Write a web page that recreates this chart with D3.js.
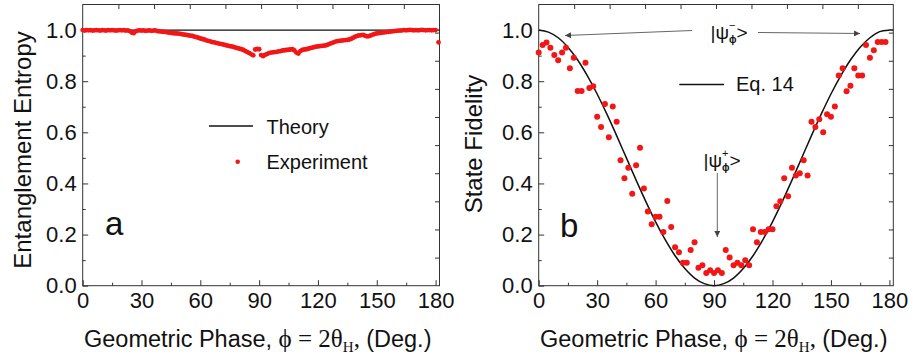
<!DOCTYPE html>
<html>
<head>
<meta charset="utf-8">
<script src="https://cdn.jsdelivr.net/npm/d3@7"></script>
<style>
  body { margin: 0; background: #fff; }
  svg { display: block; }
  text { font-family: Arial, 'Liberation Sans', sans-serif; fill: #111; }
  .tick line { stroke: #333; }
</style>
</head>
<body>
<div id="chart"></div>
<script>
// panel a: entanglement entropy, one point per degree (last point sits just past 180)
const entropyPhi = d3.range(0, 181).concat([181.5]);
const entropy = [
  1.000, 0.998, 1.000, 0.999, 1.000, 0.998, 0.999, 1.000, 0.999, 0.998,
  1.000, 0.999, 0.998, 1.000, 0.999, 1.000, 0.999, 0.998, 0.999, 1.000,
  0.999, 1.000, 0.998, 0.999, 0.996, 0.990, 0.988, 0.995, 0.998, 0.999,
  0.998, 0.999, 0.997, 0.998, 0.999, 0.997, 0.998, 0.999, 0.996, 0.995,
  0.994, 0.993, 0.993, 0.991, 0.990, 0.989, 0.988, 0.987, 0.987, 0.986,
  0.985, 0.983, 0.982, 0.981, 0.979, 0.978, 0.977, 0.974, 0.972, 0.970,
  0.967, 0.965, 0.963, 0.960, 0.958, 0.956, 0.953, 0.952, 0.950, 0.948,
  0.946, 0.945, 0.943, 0.941, 0.939, 0.937, 0.936, 0.934, 0.931, 0.929,
  0.927, 0.925, 0.922, 0.918, 0.914, 0.910, 0.905, 0.901, 0.924, 0.926,
  0.925, 0.902, 0.898, 0.903, 0.906, 0.910, 0.912, 0.913, 0.914, 0.915,
  0.917, 0.918, 0.920, 0.921, 0.922, 0.923, 0.924, 0.925, 0.920, 0.912,
  0.908, 0.918, 0.922, 0.924, 0.925, 0.927, 0.929, 0.931, 0.933, 0.935,
  0.936, 0.937, 0.938, 0.939, 0.940, 0.943, 0.946, 0.949, 0.952, 0.955,
  0.957, 0.958, 0.959, 0.960, 0.961, 0.962, 0.963, 0.966, 0.970, 0.974,
  0.977, 0.979, 0.980, 0.981, 0.978, 0.975, 0.976, 0.979, 0.982, 0.985,
  0.987, 0.988, 0.989, 0.990, 0.991, 0.992, 0.993, 0.994, 0.995, 0.996,
  0.997, 0.998, 0.998, 0.999, 1.000, 0.999, 1.000, 1.001, 1.000, 0.999,
  1.000, 0.999, 1.000, 1.001, 1.000, 0.999, 1.000, 1.000, 0.999, 1.000,
  1.000, 0.952
];
const entropyTheoryPhi = [0, 182];
const entropyTheory = [1.0, 1.0];

// panel b: state fidelity, every 2 degrees
const fidelityPhi = d3.range(0, 180, 2);
const fidelity = [
  0.912, 0.942, 0.951, 0.931, 0.902, 0.882, 0.912, 0.931, 0.851, 0.892,
  0.762, 0.762, 0.872, 0.773, 0.780, 0.661, 0.621, 0.711, 0.581, 0.701,
  0.641, 0.491, 0.420, 0.461, 0.360, 0.471, 0.540, 0.380, 0.290, 0.240,
  0.270, 0.270, 0.210, 0.331, 0.230, 0.150, 0.131, 0.090, 0.090, 0.140,
  0.170, 0.070, 0.080, 0.050, 0.060, 0.050, 0.060, 0.050, 0.140, 0.110,
  0.080, 0.090, 0.080, 0.100, 0.080, 0.221, 0.170, 0.210, 0.210, 0.221,
  0.221, 0.311, 0.330, 0.420, 0.350, 0.461, 0.431, 0.440, 0.491, 0.431,
  0.641, 0.621, 0.651, 0.600, 0.671, 0.661, 0.701, 0.822, 0.851, 0.761,
  0.782, 0.851, 0.822, 0.822, 0.942, 0.892, 0.921, 0.953, 0.953, 0.953
];
const fidelityTheoryPhi = [0, 5, 10, 15, 20, 25, 30, 35, 40, 45, 50, 55, 60, 65, 70, 75, 80, 85, 90,
  95, 100, 105, 110, 115, 120, 125, 130, 135, 140, 145, 150, 155, 160, 165, 170, 175, 180, 182];
const fidelityTheory = [1.000, 0.992, 0.970, 0.933, 0.883, 0.821, 0.750, 0.671, 0.587, 0.500,
  0.413, 0.329, 0.250, 0.179, 0.117, 0.067, 0.030, 0.008, 0.000,
  0.008, 0.030, 0.067, 0.117, 0.179, 0.250, 0.329, 0.413, 0.500, 0.587,
  0.671, 0.750, 0.821, 0.883, 0.933, 0.970, 0.994, 1.000, 1.000];

const xTicks = [0, 30, 60, 90, 120, 150, 180];
const xMinor = [15, 45, 75, 105, 135, 165];
const yTicks = [0, 0.2, 0.4, 0.6, 0.8, 1.0];
const yMinor = [0.1, 0.3, 0.5, 0.7, 0.9];

var width = 913, height = 358;
var red = '#f21616';
var serif = "'Liberation Serif', 'Times New Roman', serif";

var svg = d3.select('#chart').append('svg')
  .attr('width', width)
  .attr('height', height);

var defs = svg.append('defs');
defs.append('marker')
  .attr('id', 'arrow')
  .attr('viewBox', '0 0 10 10')
  .attr('refX', 10).attr('refY', 5)
  .attr('markerWidth', 8).attr('markerHeight', 6)
  .attr('markerUnits', 'userSpaceOnUse')
  .attr('orient', 'auto')
  .append('path')
  .attr('d', 'M0,0 L10,5 L0,10 Z')
  .attr('fill', '#444');

function panel(x0, x1) {
  var x = d3.scaleLinear().domain([0, 182]).range([x0, x1]);
  var y = d3.scaleLinear().domain([0, 1.1]).range([285.7, 4.5]);
  var g = svg.append('g');

  // major + minor ticks, all pointing inward
  g.append('g').attr('transform', 'translate(0,' + y(0) + ')')
    .call(d3.axisBottom(x).tickValues(xTicks).tickSize(-5.5).tickPadding(7).tickFormat(d3.format('d')));
  g.append('g').attr('transform', 'translate(0,' + y(0) + ')')
    .call(d3.axisBottom(x).tickValues(xMinor).tickSize(-3).tickFormat(''));
  g.append('g').attr('transform', 'translate(' + x0 + ',0)')
    .call(d3.axisLeft(y).tickValues(yTicks).tickSize(-5.5).tickPadding(6).tickFormat(d3.format('.1f')));
  g.append('g').attr('transform', 'translate(' + x0 + ',0)')
    .call(d3.axisLeft(y).tickValues(yMinor).tickSize(-3).tickFormat(''));
  // mirror axes on top and right: ten equal divisions
  g.append('g').attr('transform', 'translate(0,' + y(1.1) + ')')
    .call(d3.axisTop(x).tickValues(d3.range(1, 10).map(i => i * 18.2)).tickSize(-4.5).tickFormat(''));
  g.append('g').attr('transform', 'translate(' + x1 + ',0)')
    .call(d3.axisRight(y).tickValues(d3.range(1, 10).map(i => i * 0.11)).tickSize(-4.5).tickFormat(''));

  g.selectAll('.domain').remove();
  g.selectAll('.tick text').style('font-size', '22px').attr('fill', '#111');

  g.append('rect')
    .attr('x', x0).attr('y', y(1.1))
    .attr('width', x1 - x0).attr('height', y(0) - y(1.1))
    .attr('fill', 'none').attr('stroke', '#333').attr('stroke-width', 1);

  return { g: g, x: x, y: y };
}

function xTitle(g, x) {
  var t = g.append('text').attr('x', x).attr('y', 346.5).style('font-size', '23.5px');
  t.append('tspan').text('Geometric Phase, ');
  t.append('tspan').style('font-family', serif).style('font-size', '25px').text('\u03D5 = 2\u03B8');
  t.append('tspan').style('font-family', serif).style('font-size', '15px').attr('dy', 5).text('H');
  t.append('tspan').style('font-family', serif).style('font-size', '25px').attr('dy', -5).text(', ');
  t.append('tspan').text('(Deg.)');
}

// ---- panel a ----
var a = panel(82.7, 439.5);

a.g.append('path')
  .datum(entropyTheoryPhi.map((p, i) => [p, entropyTheory[i]]))
  .attr('fill', 'none').attr('stroke', '#111').attr('stroke-width', 1.3)
  .attr('d', d3.line().x(d => a.x(d[0])).y(d => a.y(d[1])));

a.g.selectAll('circle.exp')
  .data(entropyPhi.map((p, i) => [p, entropy[i]]))
  .enter().append('circle')
  .attr('class', 'exp')
  .attr('cx', d => a.x(d[0]))
  .attr('cy', d => a.y(d[1]))
  .attr('r', 2.4)
  .attr('fill', red);

a.g.append('text').attr('transform', 'translate(31,150) rotate(-90)')
  .attr('text-anchor', 'middle').style('font-size', '24px').text('Entanglement Entropy');
xTitle(a.g, 84);

a.g.append('line').attr('x1', 209).attr('x2', 253).attr('y1', 126).attr('y2', 126)
  .attr('stroke', '#111').attr('stroke-width', 1.3);
a.g.append('text').attr('x', 266.5).attr('y', 134).style('font-size', '20px').text('Theory');
a.g.append('circle').attr('cx', 237.7).attr('cy', 161.7).attr('r', 2.3).attr('fill', red);
a.g.append('text').attr('x', 266.5).attr('y', 169).style('font-size', '20px').text('Experiment');
a.g.append('text').attr('x', 105).attr('y', 235).style('font-size', '33px').text('a');

// ---- panel b ----
var b = panel(538.7, 893.3);

b.g.append('path')
  .datum(fidelityTheoryPhi.map((p, i) => [p, fidelityTheory[i]]))
  .attr('fill', 'none').attr('stroke', '#111').attr('stroke-width', 1.5)
  .attr('d', d3.line().curve(d3.curveCatmullRom).x(d => b.x(d[0])).y(d => b.y(d[1])));

b.g.selectAll('circle.exp')
  .data(fidelityPhi.map((p, i) => [p, fidelity[i]]))
  .enter().append('circle')
  .attr('class', 'exp')
  .attr('cx', d => b.x(d[0]))
  .attr('cy', d => b.y(d[1]))
  .attr('r', 3)
  .attr('fill', red);

b.g.append('text').attr('transform', 'translate(482,144) rotate(-90)')
  .attr('text-anchor', 'middle').style('font-size', '24px').text('State Fidelity');
xTitle(b.g, 540);

// Eq. 14 legend
b.g.append('line').attr('x1', 679.3).attr('x2', 724).attr('y1', 84.5).attr('y2', 84.5)
  .attr('stroke', '#111').attr('stroke-width', 1.3);
b.g.append('text').attr('x', 736).attr('y', 91).style('font-size', '20px').text('Eq. 14');

b.g.append('text').attr('x', 560).attr('y', 237).style('font-size', '33px').text('b');

// |psi_phi^(+/-)> labels
function ket(g, x, yb, sign) {
  g.append('text').attr('x', x).attr('y', yb).style('font-size', '19px').text('|\u03C8');
  g.append('text').attr('x', x + 18.5).attr('y', yb + 4).style('font-size', '10px').style('font-weight', 'bold').text('\u03D5');
  g.append('text').attr('x', x + 18.5).attr('y', yb - 10).style('font-size', '11px').text(sign);
  g.append('text').attr('x', x + 26).attr('y', yb).style('font-size', '19px').text('>');
}
ket(b.g, 710.5, 39, '\u2212');
ket(b.g, 703.5, 167, '+');

b.g.append('line').attr('x1', 692).attr('y1', 30.5).attr('x2', 565).attr('y2', 35.5)
  .attr('stroke', '#555').attr('stroke-width', 0.9).attr('marker-end', 'url(#arrow)');
b.g.append('line').attr('x1', 758).attr('y1', 32.5).attr('x2', 860).attr('y2', 33.5)
  .attr('stroke', '#555').attr('stroke-width', 0.9).attr('marker-end', 'url(#arrow)');
b.g.append('line').attr('x1', 717.3).attr('y1', 173).attr('x2', 717.3).attr('y2', 237)
  .attr('stroke', '#555').attr('stroke-width', 0.9).attr('marker-end', 'url(#arrow)');
</script>
</body>
</html>
